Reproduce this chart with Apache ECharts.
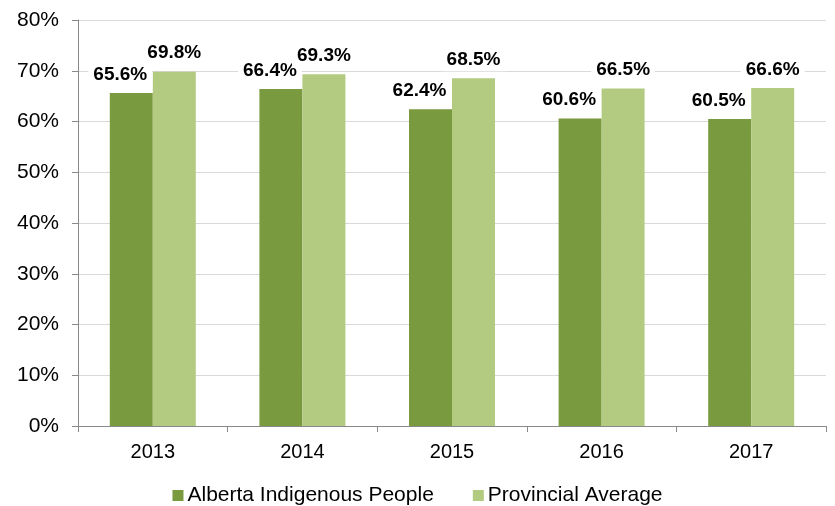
<!DOCTYPE html>
<html>
<head>
<meta charset="utf-8">
<script src="https://cdn.jsdelivr.net/npm/echarts@6/dist/echarts.min.js"></script>
<style>
  html, body { margin: 0; padding: 0; background: #fff; }
  #chart { width: 835px; height: 506px; }
</style>
</head>
<body>
<div id="chart"></div>
<script>
// 数据
const years = ['2013', '2014', '2015', '2016', '2017'];
const indigenous = [65.6, 66.4, 62.4, 60.6, 60.5];
const provincial = [69.8, 69.3, 68.5, 66.5, 66.6];
const seriesNames = ['Alberta Indigenous People', 'Provincial Average'];

const darkGreen = '#7a9a3f';
const lightGreen = '#b3cb81';
const fontFamily = '"Liberation Sans", Arial, sans-serif';

const chart = echarts.init(document.getElementById('chart'));

const labelStyle = {
  show: true,
  position: 'top',
  distance: 7,
  formatter: p => p.value.toFixed(1) + '%',
  fontFamily: fontFamily,
  fontWeight: 'bold',
  fontSize: 19,
  color: '#000',
  backgroundColor: '#fff',
  padding: [2, 5]
};

const option = {
  backgroundColor: '#fff',
  animation: false,
  grid: {
    left: 78,
    right: 9,
    top: 20,
    bottom: 80
  },
  legend: {
    top: 480,
    left: 'center',
    itemWidth: 11,
    itemHeight: 11,
    itemGap: 39,
    icon: 'rect',
    textStyle: {
      fontFamily: fontFamily,
      fontSize: 21,
      color: '#000',
      padding: [0, 0, 0, -1]
    },
    data: seriesNames
  },
  xAxis: {
    type: 'category',
    data: years,
    axisLine: { lineStyle: { color: '#898989', width: 1 } },
    axisTick: { show: true, alignWithLabel: false, length: 6, lineStyle: { color: '#898989' } },
    axisLabel: {
      fontFamily: fontFamily,
      fontSize: 20,
      color: '#000',
      margin: 16
    }
  },
  yAxis: {
    type: 'value',
    min: 0,
    max: 80,
    interval: 10,
    axisLine: { show: true, lineStyle: { color: '#898989' } },
    axisTick: { show: true, inside: false, length: 6, lineStyle: { color: '#898989' } },
    splitLine: { lineStyle: { color: '#d9d9d9' } },
    axisLabel: {
      formatter: '{value}%',
      fontFamily: fontFamily,
      fontSize: 21,
      color: '#000',
      margin: 19
    }
  },
  series: [
    {
      name: seriesNames[0],
      type: 'bar',
      data: indigenous,
      barWidth: 43,
      barGap: '0%',
      itemStyle: { color: darkGreen },
      label: Object.assign({}, labelStyle, { offset: [-11, 0] })
    },
    {
      name: seriesNames[1],
      type: 'bar',
      data: provincial,
      barWidth: 43,
      barGap: '0%',
      itemStyle: { color: lightGreen },
      label: labelStyle
    }
  ]
};

chart.setOption(option);
</script>
</body>
</html>
